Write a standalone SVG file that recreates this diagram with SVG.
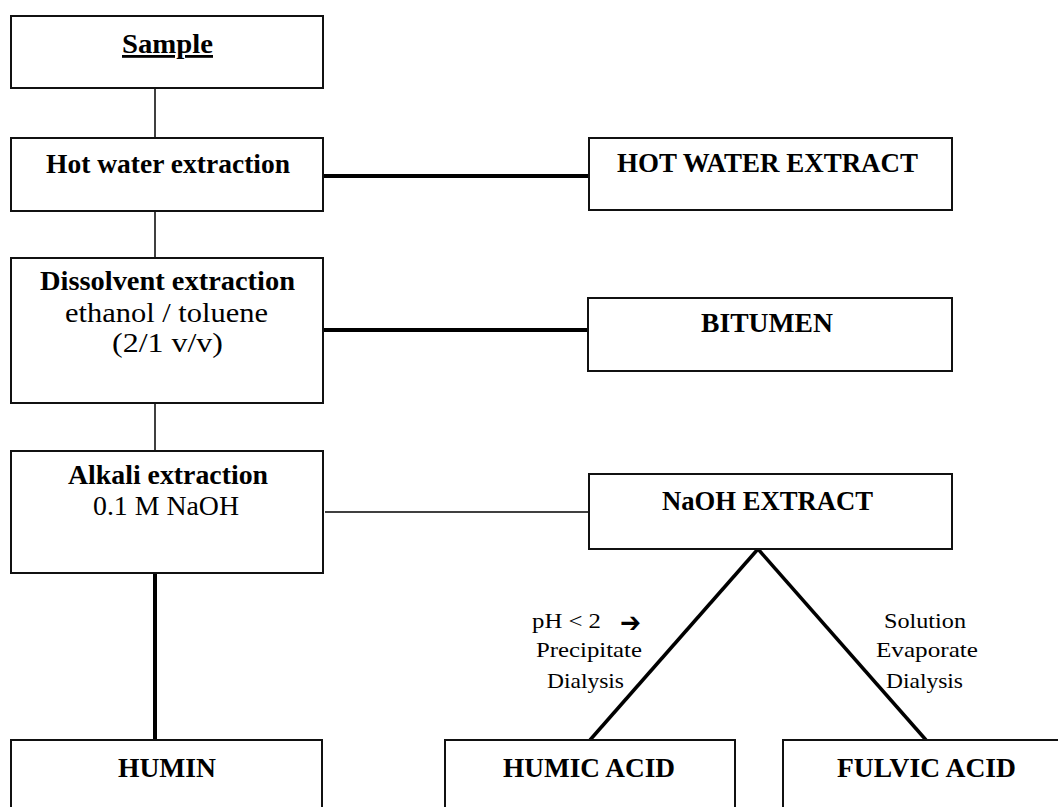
<svg xmlns="http://www.w3.org/2000/svg" width="1058" height="807" viewBox="0 0 1058 807">
<style>
.box{fill:#fff;stroke:#111;stroke-width:2}
.t{font-family:"Liberation Serif","DejaVu Serif",serif;font-weight:bold;font-size:28px;fill:#000}
.r{font-family:"Liberation Serif","DejaVu Serif",serif;font-size:27px;fill:#000}
.s{font-family:"Liberation Serif","DejaVu Serif",serif;font-size:22px;fill:#000}
.thin{stroke:#000;stroke-width:1.5;fill:none}
.thick{stroke:#000;stroke-width:4;fill:none}
.diag{stroke:#000;stroke-width:3.5;fill:none}
</style>
<rect width="1058" height="807" fill="#fff"/>
<g id="connectors">
<line class="thin" x1="155" y1="88" x2="155" y2="138"/>
<line class="thin" x1="155" y1="211" x2="155" y2="258"/>
<line class="thin" x1="155" y1="403" x2="155" y2="451"/>
<line class="thick" x1="155" y1="573" x2="155" y2="740"/>
<line class="thick" x1="324" y1="176" x2="589" y2="176"/>
<line class="thick" x1="324" y1="330" x2="588" y2="330"/>
<line class="thin" x1="325" y1="512" x2="593" y2="512"/>
<line class="diag" x1="758" y1="549" x2="590" y2="740"/>
<line class="diag" x1="758" y1="549" x2="926" y2="740"/>
</g>
<g id="edge-labels">
<text class="s" x="532" y="628" textLength="69" lengthAdjust="spacingAndGlyphs">pH &lt; 2</text>
<text x="620" y="632" font-family="DejaVu Sans, sans-serif" font-weight="bold" font-size="28" textLength="21" lengthAdjust="spacingAndGlyphs">➔</text>
<text class="s" x="536" y="657" textLength="106" lengthAdjust="spacingAndGlyphs">Precipitate</text>
<text class="s" x="547" y="688" textLength="77" lengthAdjust="spacingAndGlyphs">Dialysis</text>
<text class="s" x="884" y="628" textLength="82" lengthAdjust="spacingAndGlyphs">Solution</text>
<text class="s" x="876" y="657" textLength="102" lengthAdjust="spacingAndGlyphs">Evaporate</text>
<text class="s" x="886" y="688" textLength="77" lengthAdjust="spacingAndGlyphs">Dialysis</text>
</g>
<g id="sample">
<rect class="box" x="11" y="16" width="312" height="72"/>
<text class="t" x="122" y="53" text-decoration="underline" textLength="91" lengthAdjust="spacingAndGlyphs">Sample</text>
</g>
<g id="hot-water-extraction">
<rect class="box" x="11" y="138" width="312" height="73"/>
<text class="t" x="46" y="173" textLength="244" lengthAdjust="spacingAndGlyphs">Hot water extraction</text>
</g>
<g id="hot-water-extract">
<rect class="box" x="589" y="138" width="363" height="72"/>
<text class="t" x="617" y="172" textLength="301" lengthAdjust="spacingAndGlyphs">HOT WATER EXTRACT</text>
</g>
<g id="dissolvent-extraction">
<rect class="box" x="11" y="258" width="312" height="145"/>
<text class="t" x="40" y="290" textLength="255" lengthAdjust="spacingAndGlyphs">Dissolvent extraction</text>
<text class="r" x="65" y="322" textLength="203" lengthAdjust="spacingAndGlyphs">ethanol / toluene</text>
<text class="r" x="112" y="352" textLength="111" lengthAdjust="spacingAndGlyphs">(2/1 v/v)</text>
</g>
<g id="bitumen">
<rect class="box" x="588" y="298" width="364" height="73"/>
<text class="t" x="701" y="332" textLength="132" lengthAdjust="spacingAndGlyphs">BITUMEN</text>
</g>
<g id="alkali-extraction">
<rect class="box" x="11" y="451" width="312" height="122"/>
<text class="t" x="68" y="484" textLength="200" lengthAdjust="spacingAndGlyphs">Alkali extraction</text>
<text class="r" x="93" y="515" textLength="146" lengthAdjust="spacingAndGlyphs">0.1 M NaOH</text>
</g>
<g id="naoh-extract">
<rect class="box" x="589" y="474" width="363" height="75"/>
<text class="t" x="662" y="510" textLength="211" lengthAdjust="spacingAndGlyphs">NaOH EXTRACT</text>
</g>
<g id="humin">
<rect class="box" x="11" y="740" width="311" height="90"/>
<text class="t" x="118" y="777" textLength="98" lengthAdjust="spacingAndGlyphs">HUMIN</text>
</g>
<g id="humic-acid">
<rect class="box" x="445" y="740" width="290" height="90"/>
<text class="t" x="503" y="777" textLength="172" lengthAdjust="spacingAndGlyphs">HUMIC ACID</text>
</g>
<g id="fulvic-acid">
<rect class="box" x="783" y="740" width="290" height="90"/>
<text class="t" x="837" y="777" textLength="179" lengthAdjust="spacingAndGlyphs">FULVIC ACID</text>
</g>
</svg>
